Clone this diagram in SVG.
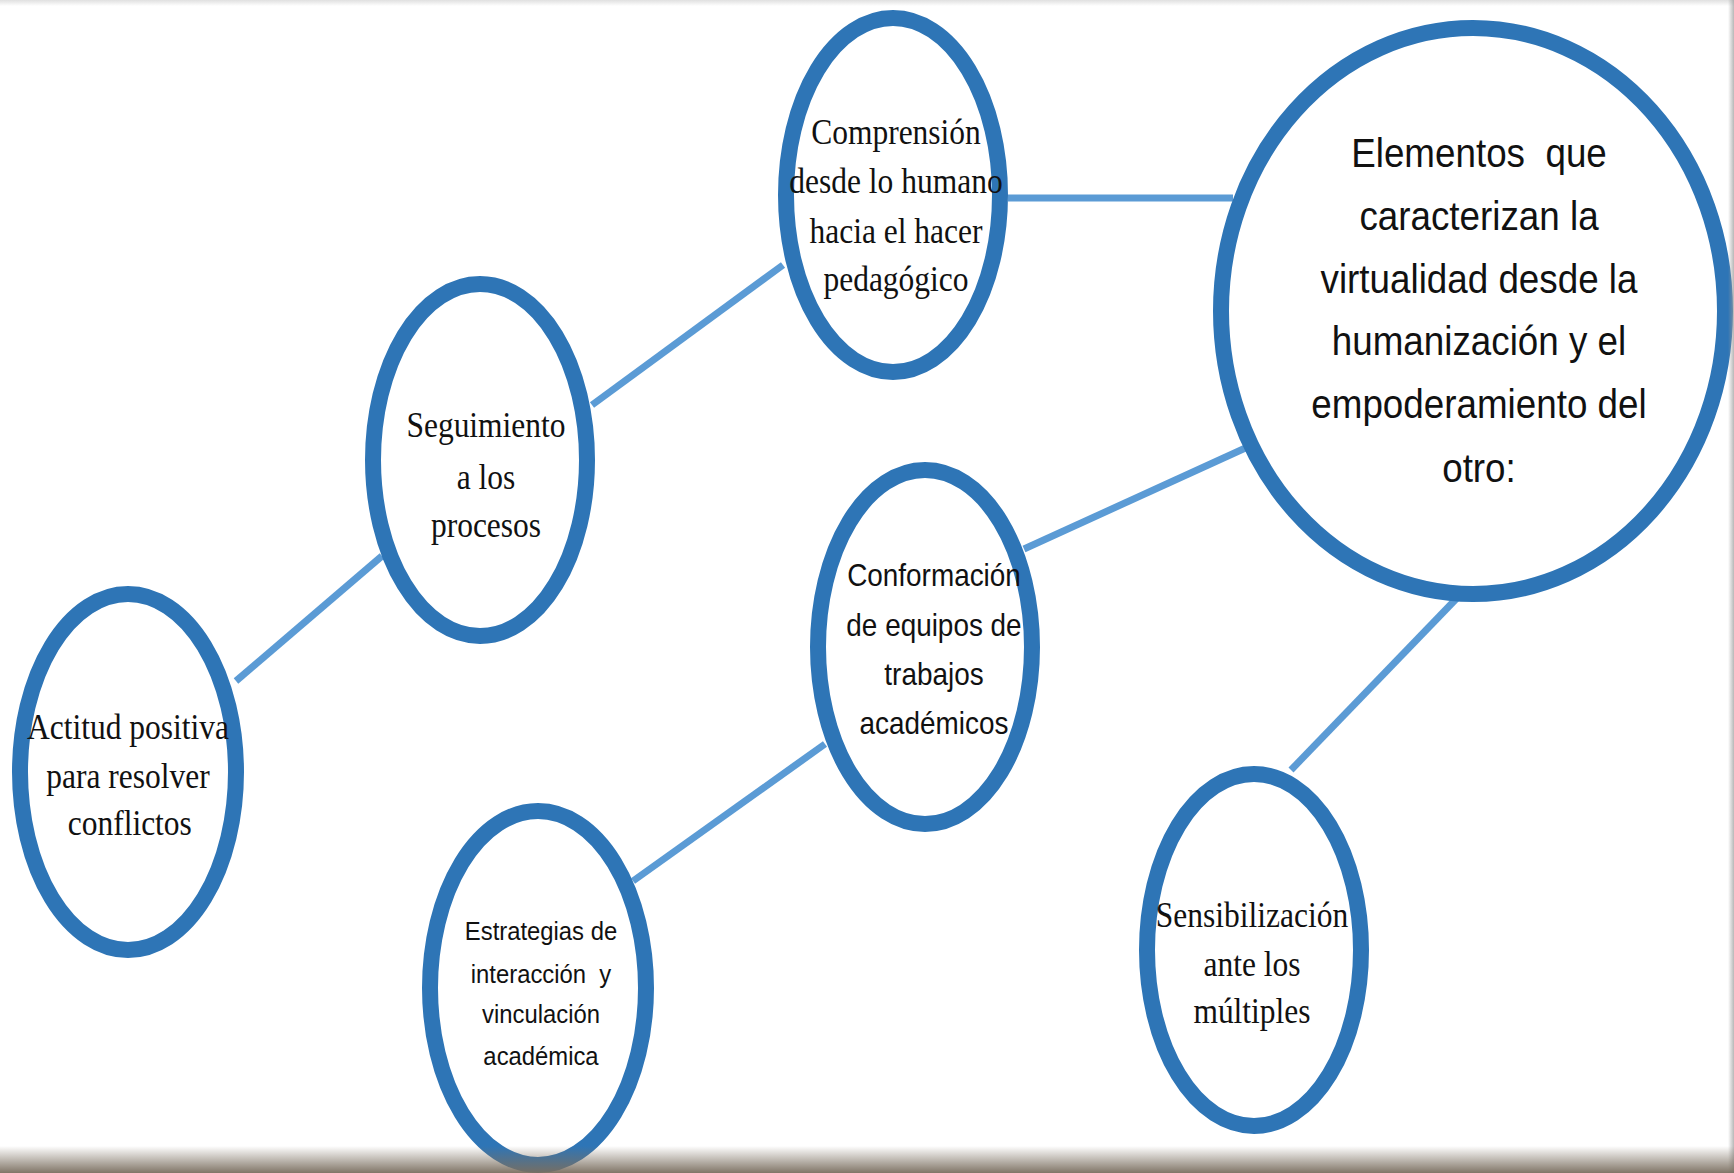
<svg xmlns="http://www.w3.org/2000/svg" width="1734" height="1173" viewBox="0 0 1734 1173">
<defs>
<linearGradient id="bot" x1="0" y1="0" x2="0" y2="1">
<stop offset="0" stop-color="#7a6e5f" stop-opacity="0"/>
<stop offset="1" stop-color="#7a6e5f" stop-opacity="0.95"/>
</linearGradient>
<linearGradient id="top" x1="0" y1="0" x2="0" y2="1">
<stop offset="0" stop-color="#d8d8d8" stop-opacity="0.8"/>
<stop offset="1" stop-color="#d8d8d8" stop-opacity="0"/>
</linearGradient>
<linearGradient id="rgt" x1="0" y1="0" x2="1" y2="0">
<stop offset="0" stop-color="#999" stop-opacity="0"/>
<stop offset="1" stop-color="#999" stop-opacity="0.7"/>
</linearGradient>
</defs>
<style>
.node{fill:#ffffff;stroke:#2e75b6;stroke-width:16}
.edge{stroke:#5b9bd5;stroke-width:7;fill:none}
.serif{font-family:"Liberation Serif","Times New Roman",serif;font-size:35px;fill:#111;text-anchor:middle}
.sans{font-family:"Liberation Sans",Arial,sans-serif;fill:#111;text-anchor:middle;white-space:pre}
</style>
<rect x="0" y="0" width="1734" height="1173" fill="#ffffff"/>
<g id="connectors">
<line class="edge" x1="1008" y1="198" x2="1233" y2="198"/>
<line class="edge" x1="592" y1="405" x2="783" y2="265"/>
<line class="edge" x1="236" y1="681" x2="382" y2="556"/>
<line class="edge" x1="1024" y1="549" x2="1252" y2="445"/>
<line class="edge" x1="633" y1="881" x2="825" y2="744"/>
<line class="edge" x1="1291" y1="770" x2="1458" y2="597"/>
</g>
<g id="node-main">
<ellipse class="node" cx="1473" cy="311" rx="252" ry="283"/>
<text class="sans" font-size="40" xml:space="preserve" transform="matrix(0.92,0,0,1,118.32,0)"><tspan x="1479" y="167">Elementos  que</tspan><tspan x="1479" y="230">caracterizan la</tspan><tspan x="1479" y="293">virtualidad desde la</tspan><tspan x="1479" y="355">humanización y el</tspan><tspan x="1479" y="418">empoderamiento del</tspan><tspan x="1479" y="482">otro:</tspan></text>
</g>
<g id="node-comprension">
<ellipse class="node" cx="893" cy="195" rx="107" ry="177"/>
<text class="serif" transform="matrix(0.9,0,0,1,89.6,0)"><tspan x="896" y="144">Comprensión</tspan><tspan x="896" y="193">desde lo humano</tspan><tspan x="896" y="243">hacia el hacer</tspan><tspan x="896" y="291">pedagógico</tspan></text>
</g>
<g id="node-seguimiento">
<ellipse class="node" cx="480" cy="460" rx="107" ry="176"/>
<text class="serif" transform="matrix(0.9,0,0,1,48.6,0)"><tspan x="486" y="437">Seguimiento</tspan><tspan x="486" y="489">a los</tspan><tspan x="486" y="537">procesos</tspan></text>
</g>
<g id="node-actitud">
<ellipse class="node" cx="128" cy="772" rx="108" ry="178"/>
<text class="serif" transform="matrix(0.9,0,0,1,12.8,0)"><tspan x="128" y="739">Actitud positiva</tspan><tspan x="128" y="788">para resolver</tspan><tspan x="130" y="835">conflictos</tspan></text>
</g>
<g id="node-conformacion">
<ellipse class="node" cx="925" cy="647" rx="107" ry="177"/>
<text class="sans" font-size="31" transform="matrix(0.9,0,0,1,93.4,0)"><tspan x="934" y="586">Conformación</tspan><tspan x="934" y="636">de equipos de</tspan><tspan x="934" y="685">trabajos</tspan><tspan x="934" y="734">académicos</tspan></text>
</g>
<g id="node-estrategias">
<ellipse class="node" cx="538" cy="988" rx="108" ry="177"/>
<text class="sans" font-size="26.5" xml:space="preserve" transform="matrix(0.9,0,0,1,54.1,0)"><tspan x="541" y="940">Estrategias de</tspan><tspan x="541" y="983">interacción  y</tspan><tspan x="541" y="1023">vinculación</tspan><tspan x="541" y="1065">académica</tspan></text>
</g>
<g id="node-sensibilizacion">
<ellipse class="node" cx="1254" cy="950" rx="107" ry="176"/>
<text class="serif" transform="matrix(0.9,0,0,1,125.2,0)"><tspan x="1252" y="927">Sensibilización</tspan><tspan x="1252" y="976">ante los</tspan><tspan x="1252" y="1023">múltiples</tspan></text>
</g>
<rect x="0" y="0" width="1734" height="6" fill="url(#top)"/>
<rect x="1728" y="0" width="6" height="1173" fill="url(#rgt)"/>
<rect x="0" y="1146" width="1734" height="27" fill="url(#bot)"/>
</svg>
